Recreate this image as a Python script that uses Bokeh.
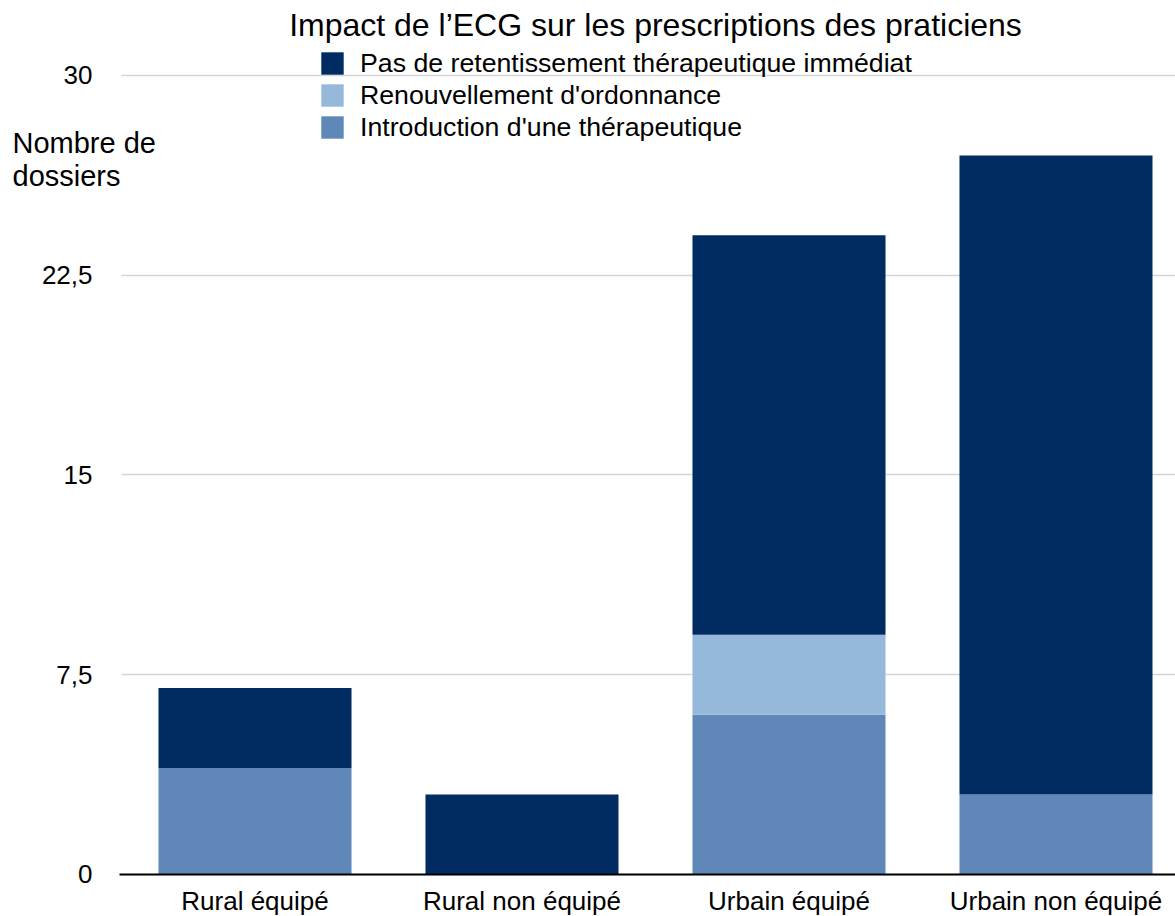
from bokeh.plotting import figure
from bokeh.models import Range1d, FixedTicker, Legend, LegendItem, Label
from bokeh.embed import file_html
from bokeh.resources import INLINE

categories = ["Rural équipé", "Rural non équipé", "Urbain équipé", "Urbain non équipé"]
introduction = [4, 0, 6, 3]
renouvellement = [0, 0, 3, 0]
pas_de_retentissement = [3, 3, 15, 24]

series_names = ["Introduction d'une thérapeutique", "Renouvellement d'ordonnance",
                "Pas de retentissement thérapeutique immédiat"]
series_colors = ["#5F87B8", "#95B8DB", "#002C62"]

y_ticks = [0, 7.5, 15, 22.5, 30]
y_tick_labels = ["0", "7,5", "15", "22,5", "30"]

title_text = "Impact de l\u2019ECG sur les prescriptions des praticiens"
y_title = ["Nombre de", "dossiers"]

FONT = "Liberation Sans"

x = list(range(len(categories)))
data = dict(x=x, intro=introduction, renouv=renouvellement, pas=pas_de_retentissement)

X_START, X_END = -0.9532, 3.4476
p = figure(width=1175, height=916, output_backend="svg", toolbar_location=None,
           x_range=Range1d(X_START, X_END), y_range=Range1d(-1.577, 32.816),
           min_border_left=0, min_border_right=0, min_border_top=0, min_border_bottom=0)
p.outline_line_color = None
p.background_fill_color = "white"

rs = p.vbar_stack(["intro", "renouv", "pas"], x="x", width=0.723, source=data,
                  color=series_colors, line_color=None)

# x axis, drawn at y = 0
p.xaxis.fixed_location = 0
p.xaxis.ticker = FixedTicker(ticks=x)
p.xaxis.major_label_overrides = {i: c for i, c in zip(x, categories)}
p.xaxis.bounds = (-0.5075, X_END)
p.xaxis.axis_line_color = "black"
p.xaxis.axis_line_width = 2
p.xaxis.major_tick_line_color = None
p.xaxis.minor_tick_line_color = None
p.xaxis.major_tick_out = 0
p.xaxis.major_label_standoff = 12
p.xaxis.major_label_text_font = FONT
p.xaxis.major_label_text_font_size = "26px"
p.xaxis.major_label_text_color = "black"

# y axis drawn at the left edge of the bar area; its long inward ticks act as gridlines
p.yaxis.fixed_location = -0.5
p.yaxis.level = "underlay"
p.yaxis.ticker = FixedTicker(ticks=y_ticks)
p.yaxis.major_label_overrides = {t: l for t, l in zip(y_ticks, y_tick_labels)}
p.yaxis.axis_line_color = None
p.yaxis.minor_tick_line_color = None
p.yaxis.major_tick_out = 0
p.yaxis.major_tick_in = 1060
p.yaxis.major_tick_line_color = "#d5d5d5"
p.yaxis.major_tick_line_width = 1.5
p.yaxis.major_label_standoff = 29
p.yaxis.major_label_text_font = FONT
p.yaxis.major_label_text_font_size = "26px"
p.yaxis.major_label_text_color = "black"

p.xgrid.grid_line_color = None
p.ygrid.grid_line_color = None

# y-axis title
for txt, yy in zip(y_title, [27.48, 26.21]):
    p.add_layout(Label(x=-0.9082, y=yy, text=txt, text_align="left",
                       text_baseline="middle", text_font=FONT, text_font_size="29px",
                       text_color="black"))

# legend (reversed order: top of stack first)
items = [LegendItem(label=series_names[i], renderers=[rs[i]]) for i in [2, 1, 0]]
legend = Legend(items=items, location=(318, 773))
legend.border_line_color = None
legend.background_fill_alpha = 0
legend.padding = 0
legend.margin = 0
legend.spacing = 0
legend.glyph_width = 28
legend.glyph_height = 28
legend.label_height = 32
legend.label_standoff = 14
legend.label_text_font = FONT
legend.label_text_font_size = "26.7px"
legend.label_text_color = "black"
p.add_layout(legend, "center")

# title
p.add_layout(Label(x=1.5, y=31.88, text=title_text, text_align="center",
                   text_baseline="middle", text_font=FONT, text_font_size="32px",
                   text_color="black"))

open("out.html", "w").write(file_html(p, INLINE))
